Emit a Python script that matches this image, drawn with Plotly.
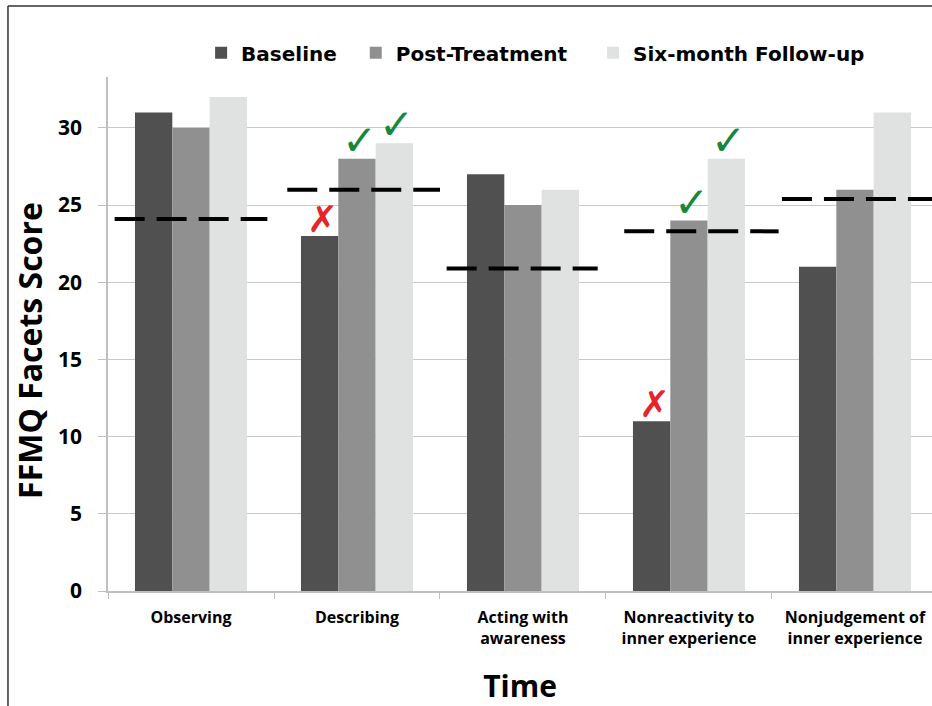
import plotly.graph_objects as go

categories = ["Observing", "Describing", "Acting with<br>awareness",
              "Nonreactivity to<br>inner experience", "Nonjudgement of<br>inner experience"]
series_names = ["Baseline", "Post-Treatment", "Six-month Follow-up"]
baseline = [31, 23, 27, 11, 21]
post_treatment = [30, 28, 25, 24, 26]
six_month = [32, 29, 26, 28, 31]
norms = [24.1, 26.0, 20.9, 23.3, 25.4]
norm_start = [-0.46, -0.42, -0.46, -0.39, -0.44]
norm_end = [0.46, 0.50, 0.45, 0.54, 0.62]
# marks: (category index, series index, value)
cross_marks = [(1, 0, 23), (3, 0, 11)]
check_marks = [(1, 1, 28), (1, 2, 29), (3, 1, 24), (3, 2, 28)]
y_ticks = [0, 5, 10, 15, 20, 25, 30]

FONT = "Open Sans"
LEG_FONT = "DejaVu Sans"
pad = ["\u00a0\u00a0", "\u00a0\u00a0\u00a0", ""]
colors = ["#505050", "#909090", "#e0e1e1"]
values = [baseline, post_treatment, six_month]

fig = go.Figure()
for name, p, col, vals in zip(series_names, pad, colors, values):
    fig.add_trace(go.Bar(name=name + p, x=categories, y=vals, marker_color=col, marker_line_width=0))

bar_w = 0.225
offsets = [-bar_w, 0, bar_w]

shapes = []
for i, v in enumerate(norms):
    shapes.append(dict(type="line", xref="x", yref="y", x0=i + norm_start[i], x1=i + norm_end[i],
                       y0=v, y1=v, line=dict(color="black", width=4, dash="30px,12px")))
# outer border
shapes.append(dict(type="line", xref="paper", yref="paper", x0=-0.1214, x1=1.2, y0=1.138, y1=1.138,
                   line=dict(color="#333333", width=1.5)))
shapes.append(dict(type="line", xref="paper", yref="paper", x0=-0.1214, x1=-0.1214, y0=1.138, y1=-0.4,
                   line=dict(color="#333333", width=1.5)))

annotations = []
for c, s, v in cross_marks:
    annotations.append(dict(x=c + offsets[s] + 0.015, y=v, xref="x", yref="y", text="\u2717", showarrow=False,
                            yanchor="bottom", yshift=-7,
                            font=dict(family="DejaVu Sans", size=37, color="#e5252a")))
for c, s, v in check_marks:
    annotations.append(dict(x=c + offsets[s] + 0.015, y=v, xref="x", yref="y", text="\u2713", showarrow=False,
                            yanchor="bottom", yshift=-8,
                            font=dict(family="DejaVu Sans", size=42, color="#17873a")))
# y axis title
annotations.append(dict(x=-0.0947, y=0.469, xref="paper", yref="paper", text="FFMQ Facets Score",
                        textangle=-90, showarrow=False, xanchor="center", yanchor="middle",
                        font=dict(family=FONT, size=32, weight="bold", color="black")))

fig.update_layout(
    width=932, height=706,
    margin=dict(l=108, r=0, t=77, b=115),
    paper_bgcolor="white", plot_bgcolor="white",
    barmode="group", bargap=0.325, bargroupgap=0,
    font=dict(family=FONT, color="black"),
    showlegend=True,
    legend=dict(orientation="h", x=0.113, y=1.047, xanchor="left", yanchor="middle",
                font=dict(family=LEG_FONT, size=20, color="black", weight="bold"),
                itemwidth=30, traceorder="normal"),
    shapes=shapes, annotations=annotations,
    xaxis=dict(range=[-0.5, 4.464], tickson="boundaries", ticks="outside", ticklen=6,
               tickcolor="#bfbfbf", showline=True, linecolor="#bfbfbf", linewidth=1.5,
               tickfont=dict(family=FONT, size=16, weight="bold"), ticklabelstandoff=11,
               title=dict(text="Time", font=dict(family=FONT, size=30, weight="bold"), standoff=28),
               showgrid=False),
    yaxis=dict(range=[0, 33.3], tickvals=y_ticks, ticks="outside", ticklen=8, tickcolor="#bfbfbf",
               showline=True, linecolor="#bfbfbf", linewidth=1.5, gridcolor="#c8c8c8", gridwidth=1,
               zeroline=False, ticklabelstandoff=12,
               tickfont=dict(family=FONT, size=21, weight="bold")),
)
fig.write_html("out.html", config={"displayModeBar": False},
               post_script="document.body.style.margin='0';")
